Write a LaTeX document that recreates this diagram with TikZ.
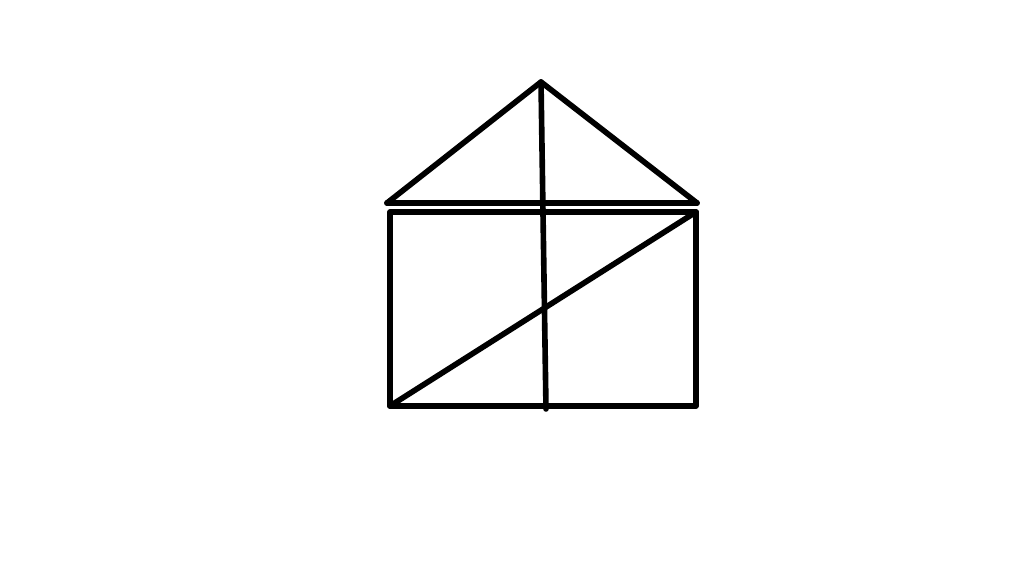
\documentclass[tikz,border=0pt]{standalone}

\begin{document}
\begin{tikzpicture}[line width=1.6pt, line cap=round, line join=round]

			\useasboundingbox (0,0) rectangle (10.24,5.75);

			\coordinate (apex) at (5.41,4.93);
			\coordinate (eaveL) at (3.87,3.72);
			\coordinate (eaveR) at (6.97,3.72);

			\coordinate (wallBL) at (3.90,1.69);
			\coordinate (wallTR) at (6.96,3.63);

			\coordinate (foot) at (5.46,1.66);

			\draw [-] (eaveL) -- (apex) -- (eaveR);
			\draw [-] (eaveL) -- (eaveR);

			\draw [-] (wallBL) rectangle (wallTR);
			\draw [-] (wallBL) -- (wallTR);

			\draw [-] (apex) -- (foot);

	\end{tikzpicture}
\end{document}
